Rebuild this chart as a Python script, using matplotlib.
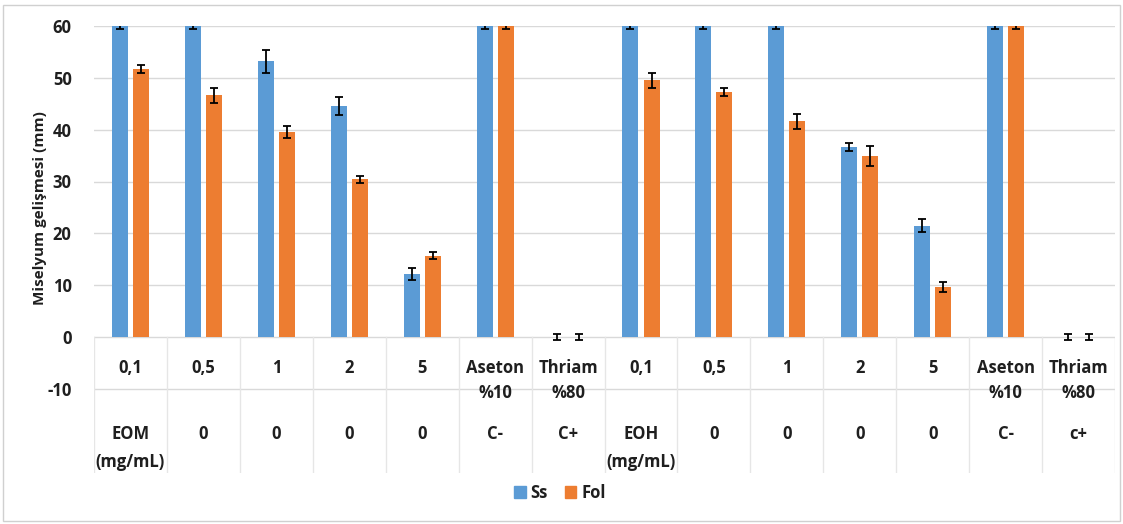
import matplotlib
matplotlib.use("Agg")
import matplotlib.pyplot as plt
from matplotlib.patches import Rectangle, Patch
import numpy as np

plt.rcParams['font.family'] = ['Open Sans', 'DejaVu Sans']
plt.rcParams['font.weight'] = 'bold'

level1 = ["0,1", "0,5", "1", "2", "5", "Aseton\n%10", "Thriam\n%80",
          "0,1", "0,5", "1", "2", "5", "Aseton\n%10", "Thriam\n%80"]
level2 = ["EOM\n(mg/mL)", "0", "0", "0", "0", "C-", "C+",
          "EOH\n(mg/mL)", "0", "0", "0", "0", "C-", "c+"]
ss = [60, 60, 53.2, 44.6, 12.2, 60, 0, 60, 60, 60, 36.6, 21.5, 60, 0]
ss_err = [0.5, 0.5, 2.2, 1.7, 1.2, 0.5, 0.5, 0.5, 0.5, 0.5, 0.8, 1.3, 0.5, 0.5]
fol = [51.7, 46.6, 39.5, 30.4, 15.7, 60, 0, 49.5, 47.2, 41.6, 34.9, 9.6, 60, 0]
fol_err = [0.7, 1.5, 1.2, 0.6, 0.7, 0.5, 0.5, 1.5, 0.8, 1.5, 2.0, 1.0, 0.5, 0.5]
yticks = [60, 50, 40, 30, 20, 10, 0, -10]

W, H = 1123, 524
fig = plt.figure(figsize=(W / 100, H / 100), dpi=100)
ax = fig.add_axes([94 / W, 1 - 473 / H, (1115 - 94) / W, (473 - 26) / H])

blue = '#5B9BD5'
orange = '#ED7D31'
txt = '#1f1f1f'
grid = '#D9D9D9'

n = len(level1)
x = np.arange(n)
bw = 0.22
off = 0.145
ax.bar(x - off, ss, bw, color=blue, zorder=3)
ax.bar(x + off, fol, bw, color=orange, zorder=3)
ax.errorbar(x - off, ss, yerr=ss_err, fmt='none', ecolor='black', elinewidth=1.3,
            capsize=3, capthick=1.3, zorder=4)
ax.errorbar(x + off, fol, yerr=fol_err, fmt='none', ecolor='black', elinewidth=1.3,
            capsize=3, capthick=1.3, zorder=4)

ymin = (337 - 473) / ((337 - 26) / 60)
ax.set_xlim(-0.5, n - 0.5)
ax.set_ylim(ymin, 60)

for g in [10, 20, 30, 40, 50, 60]:
    ax.axhline(g, color=grid, lw=1, zorder=1)
# table lines
ax.axhline(0, color=grid, lw=1, zorder=1)
ax.axhline(-10, color=grid, lw=1, zorder=1)
for b in np.arange(-0.5, n + 0.5, 1):
    ax.plot([b, b], [0, ymin], color='#E6E6E6', lw=1, zorder=1)

ax.set_yticks(yticks)
ax.set_yticklabels([str(t) for t in yticks], fontsize=12, fontweight='bold', color=txt)
ax.tick_params(axis='y', length=0, pad=16)
ax.set_xticks([])
for s in ax.spines.values():
    s.set_visible(False)

for i in range(n):
    ax.text(i, -4.2, level1[i], ha='center', va='top', fontsize=12, fontweight='bold',
            color=txt, linespacing=1.55)
    ax.text(i, -17.0, level2[i], ha='center', va='top', fontsize=12, fontweight='bold',
            color=txt, linespacing=1.7)

fig.text(40 / W, 1 - 208 / H, "Miselyum gelişmesi (mm)", rotation=90, ha='center', va='center',
         fontsize=11, fontweight='bold', color=txt)

handles = [Patch(color=blue, label='Ss'), Patch(color=orange, label='Fol')]
fig.legend(handles=handles, loc='center', bbox_to_anchor=(560 / W, 1 - 493 / H), ncol=2,
           frameon=False, fontsize=12, handlelength=0.7, handleheight=0.7,
           handletextpad=0.3, columnspacing=1.0, labelcolor=txt)

fig.patches.append(Rectangle((3 / W, 3 / H), (W - 6) / W, (H - 8) / H, transform=fig.transFigure,
                             fill=False, edgecolor='#D0D0D0', lw=1))

fig.savefig('out.png', dpi=100)
